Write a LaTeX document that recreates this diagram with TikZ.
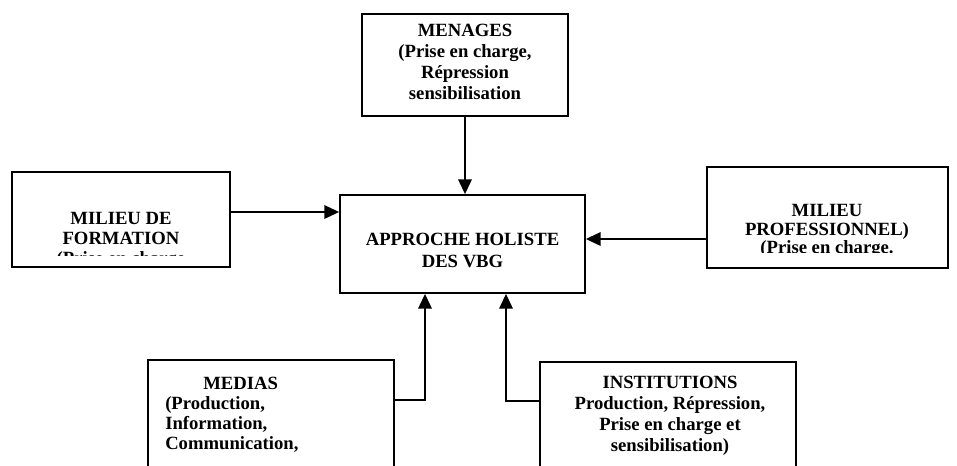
\documentclass[tikz,border=0pt]{standalone}
\usepackage{fontspec}
\setmainfont{Liberation Serif}
\usetikzlibrary{arrows.meta}

\begin{document}
\begin{tikzpicture}[x=0.75pt, y=-0.75pt, >={Triangle[length=11pt, width=10pt]},
  box/.style={draw, line width=1.3pt, inner sep=0pt},
  lbl/.style={font=\bfseries\fontsize{14}{15}\selectfont, align=center, inner sep=0pt, anchor=north},
  link/.style={line width=1.5pt}]
  % Page frame (pixel units, y downwards)
  \clip (0,0) rectangle (957,465);

  % Boxes
  \node[box, minimum width=154.5pt, minimum height=76.5pt] (menages) at (465,65) {};
  \node[box, minimum width=183.75pt, minimum height=73.5pt] (approche) at (462.5,244) {};
  \node[box, minimum width=163.5pt, minimum height=71.25pt] (formation) at (121,219.5) {};
  \node[box, minimum width=180.75pt, minimum height=75.75pt] (professionnel) at (827.5,217.5) {};
  \node[box, minimum width=184.5pt, minimum height=105pt] (medias) at (271,430) {};
  \node[box, minimum width=192pt, minimum height=103.5pt] (institutions) at (668,431) {};

  % Texts
  \node[lbl, font=\bfseries\fontsize{14}{15.75}\selectfont] (menagesT) at (465,24)
    {MENAGES\\(Prise en charge,\\Répression\\sensibilisation};
  \node[lbl, font=\bfseries\fontsize{14}{16.5}\selectfont] (approcheT) at (462.5,233)
    {APPROCHE HOLISTE\\DES VBG};
  \begin{scope}
    \clip (14,174) rectangle (228,255);
    \node[lbl] (formationT) at (121,212) {MILIEU DE\\FORMATION\\(Prise en charge};
  \end{scope}
  \begin{scope}
    \clip (709,169) rectangle (946,252);
    \node[lbl, font=\bfseries\fontsize{14}{14}\selectfont] (professionnelT) at (827,204)
      {MILIEU\\PROFESSIONNEL)\\(Prise en charge.};
  \end{scope}
  \node[lbl, anchor=north west, align=left] (mediasT) at (165,377)
    {\hspace*{28.5pt}MEDIAS\\(Production,\\Information,\\Communication,};
  \node[lbl, font=\bfseries\fontsize{14}{15.75}\selectfont] (institutionsT) at (670,376)
    {INSTITUTIONS\\Production, Répression,\\Prise en charge et\\sensibilisation)};

  % Connectors
  \coordinate (fy) at (0,212);
  \coordinate (py) at (0,239);
  \coordinate (my) at (0,400);
  \coordinate (mx) at (425,0);
  \coordinate (iy) at (0,401);
  \coordinate (ix) at (506,0);
  \draw[link, ->] (menages.south) -- (menages.south |- approche.north);
  \draw[link, ->] (formation.east |- fy) -- (approche.west |- fy);
  \draw[link, ->] (professionnel.west |- py) -- (approche.east |- py);
  \draw[link, ->] (medias.east |- my) -| (mx |- approche.south);
  \draw[link, ->] (institutions.west |- iy) -| (ix |- approche.south);
\end{tikzpicture}
\end{document}
